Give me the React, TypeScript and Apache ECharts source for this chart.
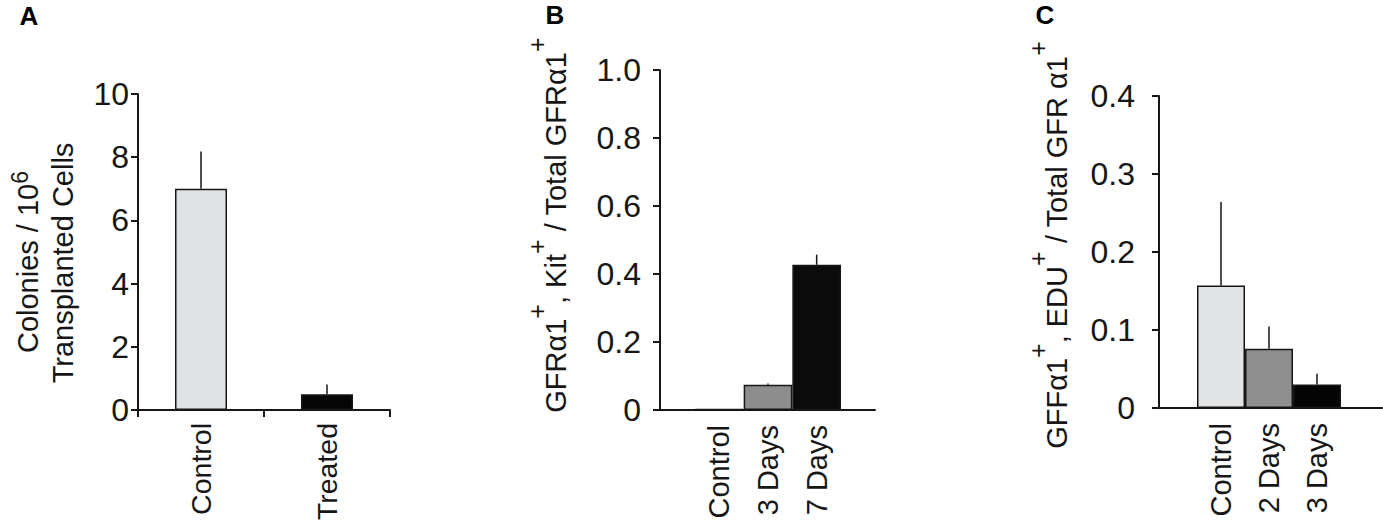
import React, { useEffect, useRef } from 'react';
import * as echarts from 'echarts';

const FONT = "'Liberation Sans', Arial, Helvetica, sans-serif";
const INK = '#161616';

// Panel A
const catsA = ['Control', 'Treated'];
const valsA = [7.0, 0.5];
const errA = [1.18, 0.31];
const colorsA = ['#e1e2e4', '#060606'];

// Panel B
const catsB = ['Control', '3 Days', '7 Days'];
const valsB = [0.003, 0.074, 0.427];
const errB = [0, 0.004, 0.03];
const colorsB = ['#1a1a1a', '#8d8d8d', '#0b0b0b'];

// Panel C
const catsC = ['Control', '2 Days', '3 Days'];
const valsC = [0.157, 0.076, 0.03];
const errC = [0.107, 0.0285, 0.014];
const colorsC = ['#e3e4e6', '#8f8f8f', '#050505'];

const decFmt = (v: number) => (v === 0 ? '0' : v.toFixed(1));

function visibleY(gridIndex: number, max: number, interval: number, margin: number, fmt?: (v: number) => string) {
  return {
    type: 'value', gridIndex, min: 0, max, interval,
    axisLine: { show: true, lineStyle: { color: INK, width: 2 } },
    axisTick: { show: true, length: 7, lineStyle: { color: INK, width: 2 } },
    splitLine: { show: false },
    axisLabel: { fontSize: 32, fontFamily: FONT, color: INK, margin, formatter: fmt },
  };
}
function hiddenY(gridIndex: number, max: number) {
  return { type: 'value', gridIndex, min: 0, max, show: false, splitLine: { show: false } };
}
function catX(gridIndex: number, data: string[], showLine: boolean, fontSize: number, margin: number) {
  return {
    type: 'category', gridIndex, data,
    axisLine: { show: showLine, lineStyle: { color: INK, width: 2 } },
    axisTick: { show: showLine, length: 7, lineStyle: { color: INK, width: 2 } },
    axisLabel: { rotate: 90, fontSize, fontFamily: FONT, color: INK, margin, interval: 0 },
  };
}
function frameX(gridIndex: number) {
  return {
    type: 'value', gridIndex, min: 0, max: 1,
    axisLine: { show: true, lineStyle: { color: INK, width: 2 } },
    axisTick: { show: false }, axisLabel: { show: false }, splitLine: { show: false },
  };
}
function barSeries(axis: number, vals: number[], colors: string[], extra: any) {
  return {
    type: 'bar', xAxisIndex: axis, yAxisIndex: axis,
    data: vals.map((v, i) => ({ value: v, itemStyle: { color: colors[i] } })),
    itemStyle: { borderColor: INK, borderWidth: 1.5 },
    ...extra,
  };
}
function errSeries(axis: number, vals: number[], errs: number[]) {
  return {
    type: 'custom', xAxisIndex: axis, yAxisIndex: axis, z: 1,
    data: vals.map((v, i) => [i, v, errs[i]]),
    renderItem: (_p: any, api: any) => {
      const x = api.value(0), v = api.value(1), e = api.value(2);
      if (!(e > 0)) return null;
      const p0 = api.coord([x, v]);
      const p1 = api.coord([x, v + e]);
      return {
        type: 'line',
        shape: { x1: p0[0], y1: p0[1], x2: p1[0], y2: p1[1] },
        style: { stroke: INK, lineWidth: 1.5 },
      };
    },
  };
}

const richStyles = {
  n: { fontSize: 29, fontFamily: FONT, fill: INK, lineHeight: 32, verticalAlign: 'middle' },
  s: { fontSize: 25, fontFamily: FONT, fill: INK, lineHeight: 26, padding: [0, 0, 38, 0], verticalAlign: 'middle' },
  s6: { fontSize: 23, fontFamily: FONT, fill: INK, lineHeight: 24, padding: [0, 0, 16, 0], verticalAlign: 'middle' },
};
function vText(x: number, y: number, text: string) {
  return {
    type: 'text', x, y, rotation: Math.PI / 2,
    style: { text, rich: richStyles, align: 'center', verticalAlign: 'middle', textAlign: 'center', textVerticalAlign: 'middle', fill: INK },
  };
}
function panelLetter(x: number, y: number, t: string) {
  return {
    type: 'text', x, y,
    style: { text: t, font: `bold 26px ${FONT}`, fill: '#000', align: 'center', verticalAlign: 'middle', textAlign: 'center', textVerticalAlign: 'middle' },
  };
}
const g = (left: number, top: number, width: number, height: number) => ({
  left, top, width, height, containLabel: false, outerBoundsMode: 'none',
});

export default function App() {
  const ref = useRef<HTMLDivElement>(null);
  useEffect(() => {
    if (!ref.current) return;
    const chart = echarts.init(ref.current, undefined, { renderer: 'svg' });
    chart.setOption({
      animation: false,
      backgroundColor: '#ffffff',
      grid: [
        g(138, 94, 252, 316),
        g(660, 70, 215, 340),
        g(695, 70, 146, 340),
        g(1159, 96, 223, 312),
        g(1197, 96, 144, 312),
      ],
      xAxis: [
        catX(0, catsA, true, 28.5, 13),
        frameX(1),
        catX(2, catsB, false, 29, 15),
        frameX(3),
        catX(4, catsC, false, 29, 15),
      ],
      yAxis: [
        visibleY(0, 10, 2, 9),
        visibleY(1, 1, 0.2, 19, decFmt),
        hiddenY(2, 1),
        visibleY(3, 0.4, 0.1, 24, decFmt),
        hiddenY(4, 0.4),
      ],
      series: [
        barSeries(0, valsA, colorsA, { barWidth: 52 }),
        errSeries(0, valsA, errA),
        barSeries(2, valsB, colorsB, { barCategoryGap: '0%' }),
        errSeries(2, valsB, errB),
        barSeries(4, valsC, colorsC, { barCategoryGap: '0%' }),
        errSeries(4, valsC, errC),
      ],
      graphic: [
        panelLetter(29, 16, 'A'),
        panelLetter(555, 15, 'B'),
        panelLetter(1045, 15, 'C'),
        vText(28, 262, '{n|Colonies / 10}{s6|6}'),
        vText(63, 263, '{n|Transplanted Cells}'),
        vText(556, 225, '{n|GFRα1}{s|+}{n|, Kit}{s|+}{n| / Total GFRα1}{s|+}'),
        vText(1057, 245, '{n|GFFα1}{s|+}{n|, EDU}{s|+}{n| / Total GFR α1}{s|+}'),
      ],
    });
    return () => chart.dispose();
  }, []);
  return <div ref={ref} style={{ position: 'absolute', left: 0, top: 0, width: 1383, height: 523 }} />;
}
